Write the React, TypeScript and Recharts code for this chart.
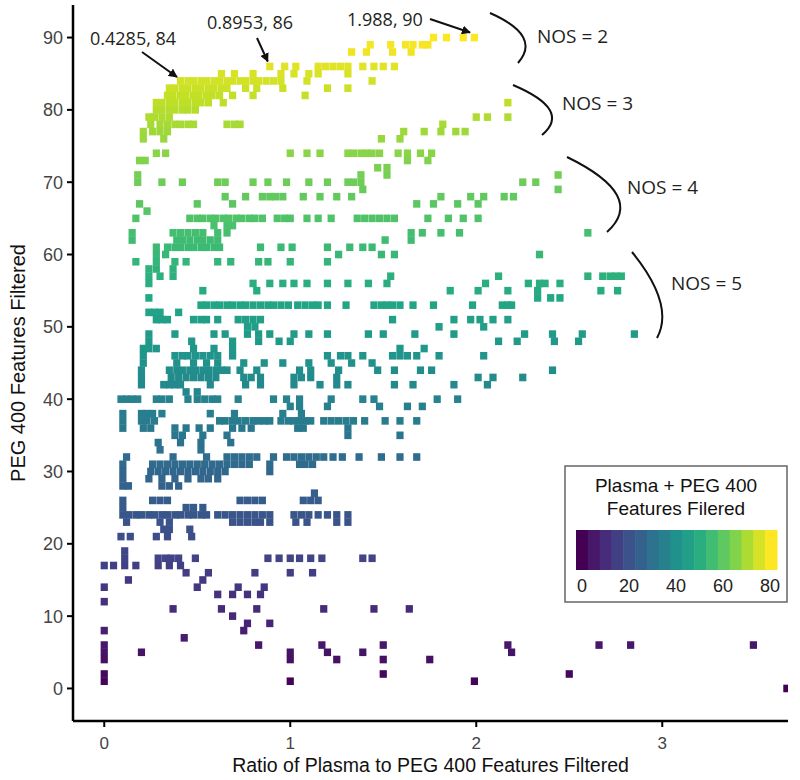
import React from 'react';
import { ScatterChart, Scatter, XAxis, YAxis } from 'recharts';

type Row = [number, number[]];

// PEG 400 features filtered (y) -> ratios of plasma to PEG 400 features filtered (x)
const rowsTop: Row[] = [
  [90, [1.77, 1.84, 1.93, 1.99]],
  [89, [1.43, 1.54, 1.62, 1.66, 1.71, 1.74]],
  [88, [1.33, 1.41, 1.55, 1.65]],
  [86, [0.89, 0.97, 1.03, 1.15, 1.19, 1.23, 1.27, 1.31, 1.39, 1.45, 1.5, 1.56]],
  [85, [0.63, 0.7, 0.8, 0.95, 1.02, 1.1, 1.15, 1.31]],
  [84, [0.41, 0.45, 0.48, 0.52, 0.55, 0.59, 0.62, 0.66, 0.69, 0.73, 0.76, 0.8, 0.83, 0.87, 0.91, 0.95, 1.09, 1.44]],
  [83, [0.35, 0.38, 0.42, 0.45, 0.49, 0.52, 0.56, 0.59, 0.63, 0.66, 0.76, 0.82, 0.96, 1.2, 1.31]],
  [82, [0.34, 0.37, 0.41, 0.44, 0.48, 0.51, 0.55, 0.58, 0.62, 0.69, 0.8, 1.08]],
  [81, [0.28, 0.31, 0.35, 0.38, 0.42, 0.45, 0.49, 0.52, 0.56, 0.64, 2.17]],
  [80, [0.28, 0.31, 0.35, 0.38, 0.42, 0.45, 0.49]],
  [79, [0.24, 0.27, 0.31, 0.35, 2.0, 2.06, 2.17]],
  [78, [0.25, 0.3, 0.34, 0.38, 0.41, 0.45, 0.48, 0.66, 0.7, 0.73, 1.82]],
  [77, [0.21, 0.26, 0.3, 0.34, 1.61, 1.72, 1.81, 1.89, 1.94]],
  [76, [0.21, 0.32, 1.49, 1.59]],
];

const rowsUpper: Row[] = [
  [74, [0.28, 0.33, 1.0, 1.09, 1.16, 1.31, 1.34, 1.38, 1.41, 1.44, 1.48, 1.58, 1.63, 1.7, 1.76]],
  [73, [0.19, 0.22, 1.63, 1.74]],
  [72, [1.47, 1.52]],
  [71, [0.18, 1.38, 1.52, 2.44]],
  [70, [0.18, 0.31, 0.42, 0.61, 0.65, 0.8, 0.88, 0.98, 1.1, 1.2, 1.31, 1.34, 1.38, 2.25, 2.32]],
  [69, [1.39, 2.44]],
  [68, [0.65, 0.76, 0.85, 0.89, 0.92, 0.96, 1.07, 1.16, 1.25, 1.33, 1.81, 1.97, 2.04, 2.15, 2.2]],
  [67, [0.19, 0.5, 0.69, 1.68, 1.77, 1.9, 2.01]],
  [66, [0.23]],
  [65, [0.17, 0.46, 0.5, 0.53, 0.57, 0.6, 0.64, 0.67, 0.71, 0.74, 0.78, 0.81, 0.85, 0.93, 0.97, 1.0, 1.09, 1.15, 1.22, 1.36, 1.4, 1.44, 1.48, 1.52, 1.56, 1.74, 1.85, 1.93, 2.01]],
  [64, [0.59, 0.66, 0.69]],
  [63, [0.15, 0.37, 0.41, 0.45, 0.49, 0.53, 0.61, 0.66, 1.65, 1.71, 1.81, 1.91, 2.6]],
  [62, [0.15, 0.39, 0.42, 0.46, 0.5, 0.53, 0.57, 0.61, 1.51, 1.65]],
  [61, [0.28, 0.34, 0.38, 0.41, 0.45, 0.48, 0.52, 0.55, 0.59, 0.62, 0.84, 0.95, 1.01, 1.2, 1.32, 1.39, 1.44]],
  [60, [0.28, 0.33, 1.26, 1.49, 1.56, 2.34]],
];

const rowsMid: Row[] = [
  [59, [0.17, 0.28, 0.38, 0.44, 0.61, 0.68, 0.83, 0.88, 1.0, 1.2]],
  [58, [0.24, 0.28, 0.37]],
  [57, [0.24, 0.3, 0.37, 1.54, 2.12, 2.6, 2.68, 2.72, 2.75, 2.78]],
  [56, [0.24, 0.8, 0.89, 0.96, 1.02, 1.09, 1.2, 1.31, 1.42, 1.52, 2.05, 2.28, 2.34, 2.37, 2.45]],
  [55, [0.53, 0.82, 1.86, 2.01, 2.17, 2.33, 2.67, 2.76]],
  [54, [0.24, 2.33, 2.4, 2.45]],
  [53, [0.52, 0.55, 0.59, 0.62, 0.66, 0.69, 0.73, 0.76, 0.8, 0.84, 0.88, 0.91, 0.95, 0.99, 1.04, 1.08, 1.12, 1.15, 1.2, 1.3, 1.45, 1.49, 1.52, 1.55, 1.59, 1.66, 1.77, 1.98, 2.14, 2.17, 2.19]],
  [52, [0.24, 0.27, 0.3, 0.4]],
  [51, [0.28, 0.31, 0.34, 0.48, 0.52, 0.55, 0.61, 0.72, 0.76, 0.8, 0.84, 1.55, 1.88, 1.97, 2.02, 2.09, 2.17]],
  [50, [0.77, 0.81, 1.8, 2.04]],
  [49, [0.24, 0.38, 0.59, 0.65, 0.77, 0.83, 0.89, 1.02, 1.1, 1.2, 1.42, 1.5, 1.67, 1.88, 2.26, 2.41, 2.57, 2.85]],
  [48, [0.24, 0.47, 0.69, 0.83, 0.94, 1.0, 2.12, 2.22, 2.42, 2.55]],
  [47, [0.21, 0.24, 0.28, 0.48, 0.59, 0.69, 1.59, 1.72]],
  [46, [0.21, 0.38, 0.42, 0.45, 0.49, 0.53, 0.57, 0.61, 0.69, 1.2, 1.27, 1.31, 1.39, 1.55, 1.59, 1.63, 1.68, 1.8, 2.04]],
  [45, [0.21, 0.39, 0.48, 0.55, 0.61, 0.75, 0.86, 0.96, 1.1, 1.22, 1.33, 1.44]],
];

const rowsLower: Row[] = [
  [44, [0.2, 0.35, 0.39, 0.42, 0.46, 0.49, 0.53, 0.56, 0.6, 0.63, 0.66, 0.73, 0.82, 1.05, 1.11, 1.26, 1.47, 1.56, 1.7, 1.76, 2.41]],
  [43, [0.2, 0.36, 0.4, 0.44, 0.48, 0.52, 0.56, 0.6, 0.75, 0.79, 0.84, 1.02, 1.06, 1.11, 1.25, 2.01, 2.09, 2.25]],
  [42, [0.2, 0.32, 0.35, 0.38, 0.41, 0.57, 0.76, 0.84, 1.02, 1.16, 1.25, 1.31, 1.56, 1.66, 1.88, 2.06]],
  [41, [0.44, 0.5]],
  [40, [0.09, 0.12, 0.15, 0.18, 0.28, 0.31, 0.35, 0.45, 0.5, 0.54, 0.58, 0.61, 0.72, 0.91, 0.98, 1.05, 1.22, 1.39, 1.45, 1.79, 1.9]],
  [39, [1.0, 1.05, 1.2, 1.48, 1.63, 1.71]],
  [38, [0.1, 0.2, 0.23, 0.26, 0.31, 0.57, 0.7, 0.96, 1.06]],
  [37, [0.1, 0.2, 0.23, 0.27, 0.62, 0.65, 0.69, 0.72, 0.76, 0.8, 0.83, 0.86, 0.89, 0.95, 0.99, 1.02, 1.05, 1.08, 1.11, 1.18, 1.22, 1.26, 1.3, 1.34, 1.4, 1.51, 1.59, 1.68]],
  [36, [0.1, 0.21, 0.25, 0.38, 0.44, 0.51, 0.57, 0.69, 0.74, 0.79, 1.04, 1.07, 1.31]],
  [35, [0.38, 0.42, 0.53, 0.66, 1.31, 1.59]],
  [34, [0.29, 0.41, 0.52, 0.68]],
  [33, [0.3, 0.52]],
  [32, [0.12, 0.37, 0.55, 0.66, 0.7, 0.74, 0.78, 0.82, 0.91, 0.98, 1.02, 1.06, 1.1, 1.14, 1.18, 1.23, 1.28, 1.37, 1.49, 1.59, 1.68]],
  [31, [0.1, 0.26, 0.3, 0.34, 0.38, 0.42, 0.46, 0.5, 0.54, 0.58, 0.62, 0.66, 0.7, 0.74, 0.78, 0.89, 1.05, 1.08, 1.12]],
  [30, [0.1, 0.25, 0.29, 0.33, 0.37, 0.41, 0.45, 0.49, 0.53, 0.57, 0.61, 0.65, 0.89]],
];

const rowsLow: Row[] = [
  [29, [0.1, 0.24, 0.31, 0.38, 0.45, 0.52, 0.56, 0.61]],
  [28, [0.1, 0.13, 0.31, 0.35, 0.4]],
  [27, [1.13]],
  [26, [0.1, 0.26, 0.3, 0.34, 0.73, 0.77, 0.81, 0.85, 1.07, 1.11, 1.15]],
  [25, [0.1, 0.44, 0.48, 0.53]],
  [24, [0.1, 0.13, 0.17, 0.2, 0.24, 0.27, 0.31, 0.34, 0.38, 0.41, 0.45, 0.48, 0.52, 0.55, 0.61, 0.65, 0.69, 0.73, 0.77, 0.81, 0.85, 0.89, 1.02, 1.06, 1.1, 1.15, 1.2, 1.25, 1.31]],
  [23, [0.12, 0.3, 0.35, 0.69, 0.73, 0.77, 0.81, 0.84, 0.89, 1.03, 1.09, 1.25, 1.31]],
  [22, [0.32, 0.35, 0.46]],
  [21, [0.09, 0.14, 0.28, 0.34, 0.47]],
  [19, [0.11]],
  [18, [0.11, 0.29, 0.33, 0.36, 0.4, 0.49, 0.88, 0.94, 1.0, 1.05, 1.11, 1.17, 1.39, 1.44]],
  [17, [0.0, 0.05, 0.11, 0.17, 0.29, 0.35, 0.41]],
  [16, [0.44, 0.56, 0.81, 1.0, 1.12]],
  [15, [0.13, 0.53]],
];

const rowsBottom: Row[] = [
  [14, [0.0, 0.5, 0.72, 0.86]],
  [13, [0.61, 0.69, 0.77, 0.84]],
  [12, [0.0]],
  [11, [0.37, 0.63, 0.82, 1.18, 1.45, 1.64]],
  [10, [0.69]],
  [9, [0.77, 0.89]],
  [8, [0.0, 0.75]],
  [7, [0.43]],
  [6, [0.0, 0.83, 1.17, 1.5, 2.17, 2.66, 2.83, 3.49]],
  [5, [0.0, 0.2, 1.0, 1.2, 1.39, 2.19]],
  [4, [0.0, 1.0, 1.25, 1.5, 1.75]],
  [2, [0.0, 1.5, 2.5]],
  [1, [0.0, 1.0, 1.99]],
  [0, [3.67]],
];

const xTicks = [0, 1, 2, 3];
const yTicks = [0, 10, 20, 30, 40, 50, 60, 70, 80, 90];
const legendTicks = [0, 20, 40, 60, 80];
const legendBins = 17;

const annotations = [
  { label: '0.4285, 84', x: 0.4285, y: 84 },
  { label: '0.8953, 86', x: 0.8953, y: 86 },
  { label: '1.988, 90', x: 1.988, y: 90 },
];
const nosLabels = ['NOS = 2', 'NOS = 3', 'NOS = 4', 'NOS = 5'];

// ---------- styling / layout ----------
const W = 800;
const H = 780;
const PLOT_L = 73;
const PLOT_R = 788;
const PLOT_T = 5;
const PLOT_B = 721;
const X_MIN = -0.168;
const X_MAX = 3.676;
const Y_MIN = -4.5;
const Y_MAX = 94.5;

const VIRIDIS = ['#440154', '#482475', '#414487', '#355F8D', '#2A788E', '#21918C', '#22A884', '#44BF70', '#7AD151', '#BDDF26', '#FDE725'];
function hexToRgb(h: string) {
  return [parseInt(h.slice(1, 3), 16), parseInt(h.slice(3, 5), 16), parseInt(h.slice(5, 7), 16)];
}
function viridis(t: number) {
  const c = Math.max(0, Math.min(1, t)) * (VIRIDIS.length - 1);
  const i = Math.min(VIRIDIS.length - 2, Math.floor(c));
  const f = c - i;
  const a = hexToRgb(VIRIDIS[i]);
  const b = hexToRgb(VIRIDIS[i + 1]);
  const m = a.map((v, k) => Math.round(v + (b[k] - v) * f));
  return `rgb(${m[0]},${m[1]},${m[2]})`;
}

const allRows = [...rowsTop, ...rowsUpper, ...rowsMid, ...rowsLower, ...rowsLow, ...rowsBottom];
const points = allRows.flatMap(([y, xs]) => xs.map((x) => ({ x, y, color: viridis(y / 90) })));

const sx = (x: number) => PLOT_L + ((x - X_MIN) / (X_MAX - X_MIN)) * (PLOT_R - PLOT_L);
const sy = (y: number) => PLOT_T + ((Y_MAX - y) / (Y_MAX - Y_MIN)) * (PLOT_B - PLOT_T);

const Square = (props: any) => {
  const { cx, cy, payload } = props;
  if (cx == null || cy == null) return null;
  return <rect x={cx - 3.6} y={cy - 3.8} width={7.2} height={7.6} fill={payload.color} />;
};

// layout of annotation text & arrows (pixel offsets)
const annLayout = [
  { tx: 90, ty: 45, sx: 142, sy: 52, ex: -7, ey: -4 },
  { tx: 207, ty: 29, sx: 257, sy: 38, ex: -3, ey: -5 },
  { tx: 347, ty: 26, sx: 430, sy: 19, ex: -4, ey: -5 },
];
const nosLayout = [
  { path: 'M490,13 Q542,36 518,63', tx: 537, ty: 43 },
  { path: 'M513,85 Q572,110 542,135', tx: 562, ty: 110 },
  { path: 'M567,157 Q647,196 607,232', tx: 627, ty: 194 },
  { path: 'M632,252 Q675,305 657,338', tx: 671, ty: 290 },
];

const LEG = { x: 565, y: 466, w: 222, h: 136, barX: 576, barW: 201, barY: 530, barH: 40, v0x: 582, pxPerUnit: 2.35 };

export default function App() {
  const annFont = "'Open Sans', 'Noto Sans', sans-serif";
  const axFont = "'Liberation Sans', Arial, sans-serif";
  return (
    <div style={{ position: 'absolute', left: 0, top: 0, width: W, height: H, background: '#fff' }}>
      <ScatterChart width={W} height={H} margin={{ top: PLOT_T, right: W - PLOT_R, left: 0, bottom: 0 }}>
        <XAxis
          type="number"
          dataKey="x"
          domain={[X_MIN, X_MAX]}
          ticks={xTicks}
          allowDataOverflow
          height={H - PLOT_B}
          tickSize={6}
          tickMargin={10}
          axisLine={{ stroke: '#000', strokeWidth: 2.5 }}
          tickLine={{ stroke: '#000', strokeWidth: 2 }}
          tick={{ fill: '#444', fontSize: 17, fontFamily: axFont }}
        />
        <YAxis
          type="number"
          dataKey="y"
          domain={[Y_MIN, Y_MAX]}
          ticks={yTicks}
          allowDataOverflow
          width={PLOT_L}
          tickSize={6}
          tickMargin={4}
          axisLine={{ stroke: '#000', strokeWidth: 2.5 }}
          tickLine={{ stroke: '#000', strokeWidth: 2 }}
          tick={{ fill: '#444', fontSize: 18, fontFamily: axFont }}
        />
        <Scatter data={points} shape={Square} isAnimationActive={false} />
      </ScatterChart>
      <svg width={W} height={H} style={{ position: 'absolute', left: 0, top: 0, pointerEvents: 'none' }}>
        <defs>
          <marker id="arr" viewBox="0 0 10 10" refX="9" refY="5" markerWidth="4.5" markerHeight="4.5" orient="auto">
            <path d="M0,0 L10,5 L0,10 z" fill="#111" />
          </marker>
        </defs>
        {/* axis titles */}
        <text x={(PLOT_L + PLOT_R) / 2} y={772} textAnchor="middle" fontSize={19.5} fontFamily={axFont} fill="#111">
          Ratio of Plasma to PEG 400 Features Filtered
        </text>
        <text
          x={25}
          y={(PLOT_T + PLOT_B) / 2}
          textAnchor="middle"
          fontSize={20}
          fontFamily={axFont}
          fill="#111"
          transform={`rotate(-90 25 ${(PLOT_T + PLOT_B) / 2})`}
        >
          PEG 400 Features Filtered
        </text>
        {/* point annotations */}
        {annotations.map((a, i) => {
          const l = annLayout[i];
          return (
            <g key={a.label}>
              <text x={l.tx} y={l.ty} fontSize={18} fontFamily={annFont} fill="#231F20">
                {a.label}
              </text>
              <line x1={l.sx} y1={l.sy} x2={sx(a.x) + l.ex} y2={sy(a.y) + l.ey} stroke="#111" strokeWidth={2} markerEnd="url(#arr)" />
            </g>
          );
        })}
        {/* NOS brackets */}
        {nosLabels.map((n, i) => (
          <g key={n}>
            <path d={nosLayout[i].path} fill="none" stroke="#111" strokeWidth={2} />
            <text x={nosLayout[i].tx} y={nosLayout[i].ty} fontSize={19} fontFamily={annFont} fill="#231F20">
              {n}
            </text>
          </g>
        ))}
        {/* colour legend */}
        <rect x={LEG.x} y={LEG.y} width={LEG.w} height={LEG.h} fill="#fff" stroke="#666" strokeWidth={1.5} />
        <text x={LEG.x + LEG.w / 2} y={492} textAnchor="middle" fontSize={19} fontFamily={axFont} fill="#111">
          Plasma + PEG 400
        </text>
        <text x={LEG.x + LEG.w / 2} y={515} textAnchor="middle" fontSize={19} fontFamily={axFont} fill="#111">
          Features Filered
        </text>
        {Array.from({ length: legendBins }).map((_, i) => (
          <rect
            key={i}
            x={LEG.barX + (i * LEG.barW) / legendBins}
            y={LEG.barY}
            width={LEG.barW / legendBins + 0.5}
            height={LEG.barH}
            fill={viridis(i / (legendBins - 1))}
          />
        ))}
        {legendTicks.map((t) => (
          <text key={t} x={LEG.v0x + t * LEG.pxPerUnit} y={592} textAnchor="middle" fontSize={18} fontFamily={axFont} fill="#222">
            {t}
          </text>
        ))}
      </svg>
    </div>
  );
}
